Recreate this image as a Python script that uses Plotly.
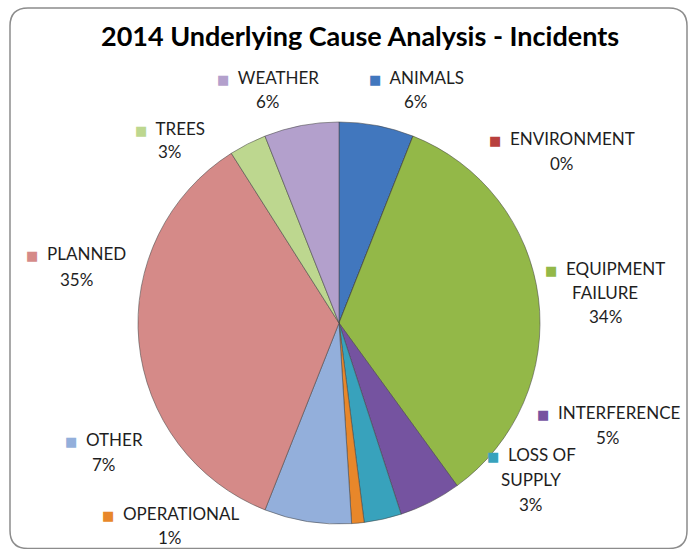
import plotly.graph_objects as go

# Incident causes, clockwise from 12 o'clock
causes = ["ANIMALS", "ENVIRONMENT", "EQUIPMENT FAILURE", "INTERFERENCE",
          "LOSS OF SUPPLY", "OPERATIONAL", "OTHER", "PLANNED", "TREES", "WEATHER"]
shares = [6, 0, 34, 5, 3, 1, 7, 35, 3, 6]
label_lines = [["ANIMALS"], ["ENVIRONMENT"], ["EQUIPMENT", "FAILURE"], ["INTERFERENCE"],
               ["LOSS OF", "SUPPLY"], ["OPERATIONAL"], ["OTHER"], ["PLANNED"], ["TREES"], ["WEATHER"]]
colors = ["#4177BE", "#B8403D", "#93B848", "#7553A0", "#38A2BC",
          "#E8872A", "#93AFDB", "#D58A88", "#BDD78F", "#B3A0CC"]

W, H = 689, 549

# Data-label placement: centre x, first-line y and line gap (pixels from top-left)
label_pos = [(416, 77, 25), (562, 138, 25), (605, 268, 24), (608, 412, 25), (531, 454, 25),
             (170, 513, 24), (104, 439, 25), (76, 254, 25), (170, 128, 24), (268, 77, 25)]

# Pie placement in pixels: centre and radius
cx, cy, rad = 339, 323, 201

fig = go.Figure(go.Pie(
    labels=causes,
    values=shares,
    sort=False,
    direction="clockwise",
    rotation=0,
    marker=dict(colors=colors, line=dict(color="rgba(70,70,70,0.55)", width=1)),
    textinfo="none",
    hoverinfo="label+percent",
    showlegend=False,
    domain=dict(x=[(cx - rad) / W, (cx + rad) / W],
                y=[1 - (cy + rad) / H, 1 - (cy - rad) / H]),
))

label_font = dict(family="Lato", size=17, color="#1e1e1e")
annotations = []
for lines, val, col, (px, py, gap) in zip(label_lines, shares, colors, label_pos):
    rows = lines + [f"{val}%"]
    for i, row in enumerate(rows):
        if i == 0:
            row = (f"<span style='color:{col};font-family:DejaVu Sans;font-size:13px'>\u25A0</span>"
                   f"\u00a0\u00a0{row}")
        annotations.append(dict(
            x=px / W, y=1 - (py + i * gap) / H, xref="paper", yref="paper",
            xanchor="center", yanchor="middle", showarrow=False, align="center",
            text=row, font=label_font,
        ))

annotations.append(dict(
    x=360 / W, y=1 - 36 / H, xref="paper", yref="paper",
    xanchor="center", yanchor="middle", showarrow=False,
    text="<b>2014 Underlying Cause Analysis - Incidents</b>",
    font=dict(family="Lato", size=27, color="#000000"),
))

# Rounded chart frame
fx0, fx1, fy0, fy1, fr = 10, 687, 8, 548.5, 18
def P(x, y):
    return f"{x / W:.5f},{1 - y / H:.5f}"
frame_path = (f"M {P(fx0 + fr, fy0)} L {P(fx1 - fr, fy0)} Q {P(fx1, fy0)} {P(fx1, fy0 + fr)} "
              f"L {P(fx1, fy1 - fr)} Q {P(fx1, fy1)} {P(fx1 - fr, fy1)} "
              f"L {P(fx0 + fr, fy1)} Q {P(fx0, fy1)} {P(fx0, fy1 - fr)} "
              f"L {P(fx0, fy0 + fr)} Q {P(fx0, fy0)} {P(fx0 + fr, fy0)} Z")

fig.update_layout(
    width=W, height=H,
    margin=dict(l=0, r=0, t=0, b=0),
    paper_bgcolor="white",
    annotations=annotations,
    shapes=[dict(type="path", path=frame_path, xref="paper", yref="paper",
                 line=dict(color="#8c8c8c", width=1.5), layer="below")],
)

fig.write_html("out.html")
